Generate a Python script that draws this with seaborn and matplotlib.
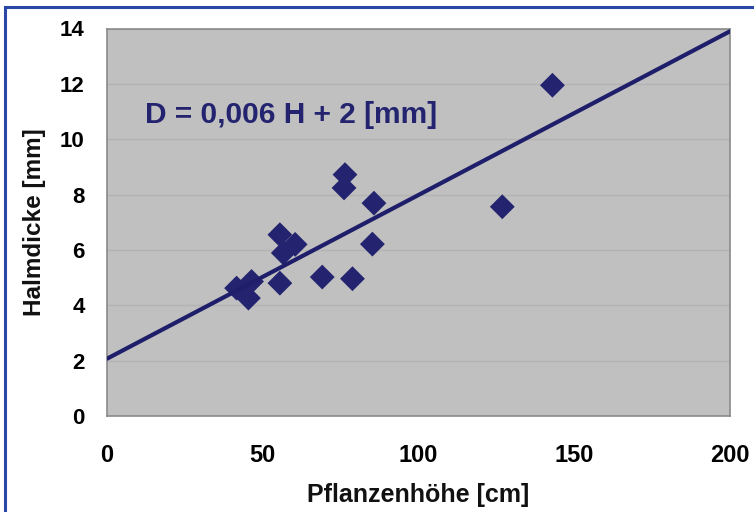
import matplotlib
matplotlib.use("Agg")
import matplotlib.pyplot as plt
import seaborn as sns
import pandas as pd
from matplotlib.patches import Rectangle

# Data
hoehe = [41.6, 46.4, 45.4, 55.5, 55.5, 56.6, 60.4, 69.1, 76.4, 76.1, 78.8, 85.2, 85.7, 126.9, 143.0]
dicke = [4.62, 4.86, 4.26, 4.80, 6.55, 5.89, 6.20, 5.02, 8.72, 8.24, 4.96, 6.21, 7.69, 7.56, 11.95]
fit_x = [0, 200]
fit_y = [2.07, 13.9]
x_ticks = [0, 50, 100, 150, 200]
y_ticks = [0, 2, 4, 6, 8, 10, 12, 14]
equation = "D = 0,006 H + 2 [mm]"

sns.set_theme(style="white")
plt.rcParams['font.family'] = ['Liberation Sans', 'DejaVu Sans']

navy = "#23236f"
df = pd.DataFrame({"H": hoehe, "D": dicke})
fit = pd.DataFrame({"H": fit_x, "D": fit_y})

fig = plt.figure(figsize=(7.54, 5.12), dpi=100)
ax = fig.add_axes([107/754, 1-416/512, (730-107)/754, (416-28.5)/512])
ax.set_facecolor("#c0c0c0")

sns.scatterplot(data=df, x="H", y="D", marker="D", s=160, color=navy,
                edgecolor="none", ax=ax, zorder=3)
sns.lineplot(data=fit, x="H", y="D", color="#1e1e6a", linewidth=3, ax=ax, zorder=4)

ax.set_xlim(0, 200)
ax.set_ylim(0, 14)
ax.set_xticks(x_ticks)
ax.set_yticks(y_ticks)
ax.yaxis.grid(True, color="#b3b3b3", linewidth=1)
ax.set_axisbelow(True)
for s in ax.spines.values():
    s.set_color("#8a8a8a")
    s.set_linewidth(1.2)
ax.tick_params(axis="both", length=0, colors="black")
ax.tick_params(axis="x", pad=20, labelsize=17)
ax.tick_params(axis="y", pad=16, labelsize=16)
for lab in ax.get_xticklabels() + ax.get_yticklabels():
    lab.set_fontweight("bold")
ax.set_xlabel("Pflanzenhöhe [cm]", fontsize=18, fontweight="bold", color="#111111", labelpad=12)
ax.set_ylabel("Halmdicke [mm]", fontsize=17.5, fontweight="bold", color="#111111", labelpad=10)

ax.text(145/754, 1-115/512, equation, transform=fig.transFigure, fontsize=21.5,
        fontweight="bold", color=navy, va="center", ha="left")

fig.patches.append(Rectangle((5/754, -0.1), 1.2, 1 - 7/512 + 0.1, transform=fig.transFigure,
                             fill=False, edgecolor="#2a47a8", linewidth=2.2, zorder=10))

fig.savefig("out.png", dpi=100)
